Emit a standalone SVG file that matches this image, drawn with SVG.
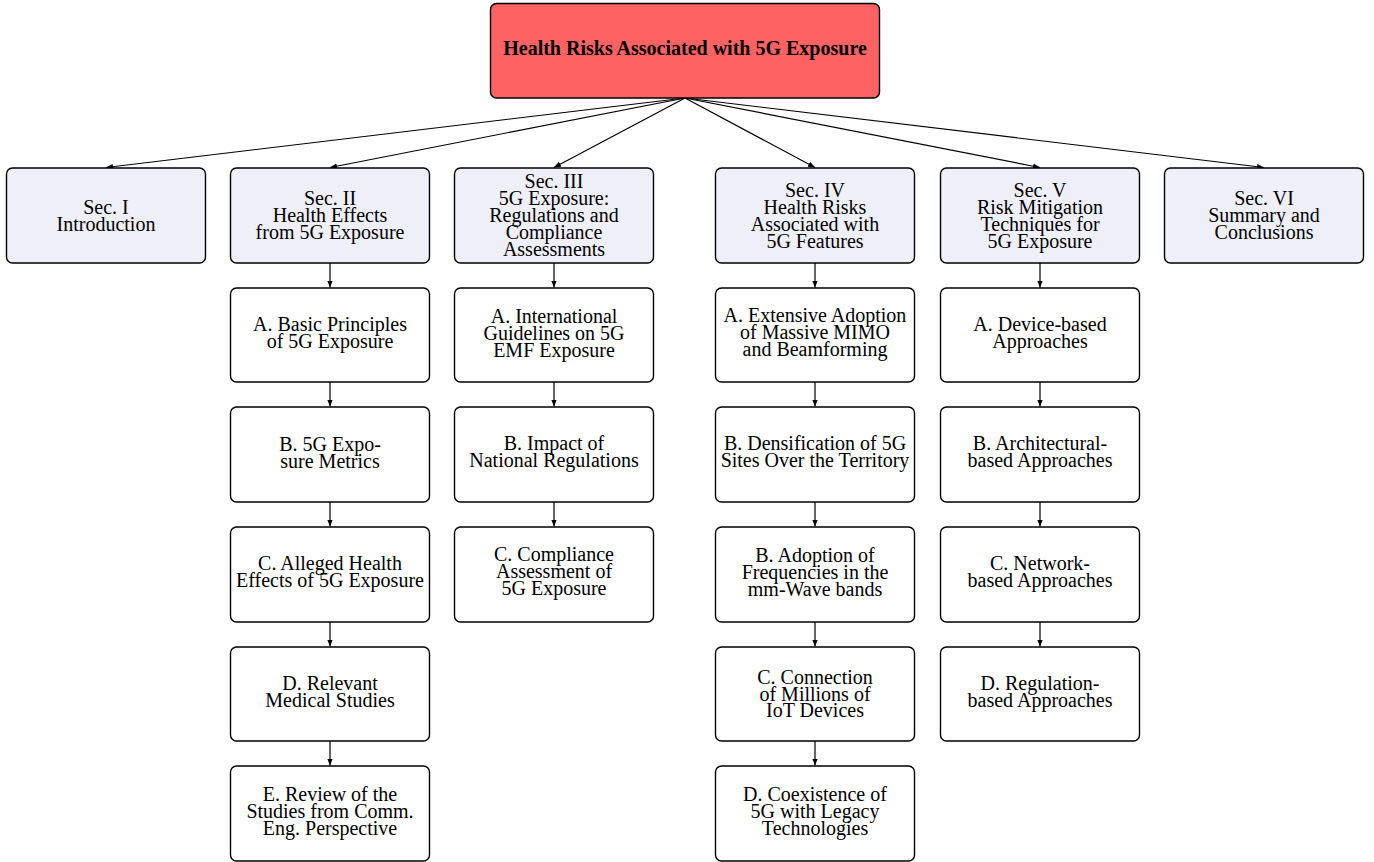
<svg xmlns="http://www.w3.org/2000/svg" width="1374" height="862" viewBox="0 0 1374 862">
<style>
.b{stroke:#000;stroke-width:1.4}
.root{fill:#FF6262}
.sec{fill:#EFEFF9}
.ch{fill:#FFFFFF}
text{font-family:"Liberation Serif","Times New Roman",serif;font-size:20px;fill:#000;text-anchor:middle}
.tt{font-weight:bold;font-size:20px}
.c{stroke:#000;stroke-width:1.2;fill:none;marker-end:url(#ah)}
</style>
<defs>
<marker id="ah" viewBox="0 0 10 10" refX="10" refY="5" markerWidth="7" markerHeight="7" markerUnits="userSpaceOnUse" orient="auto">
<path d="M0,1 L10,5 L0,9 Z" fill="#000"/>
</marker>
</defs>
<g id="connectors">
<path class="c" d="M685,98 L106,167.5"/>
<path class="c" d="M685,98 L330,167.5"/>
<path class="c" d="M685,98 L554,167.5"/>
<path class="c" d="M685,98 L815,167.5"/>
<path class="c" d="M685,98 L1040,167.5"/>
<path class="c" d="M685,98 L1264,167.5"/>
<path class="c" d="M330,263 V287.5"/>
<path class="c" d="M330,382 V406.5"/>
<path class="c" d="M330,502 V526.5"/>
<path class="c" d="M330,622 V646.5"/>
<path class="c" d="M330,741 V765.5"/>
<path class="c" d="M554,263 V287.5"/>
<path class="c" d="M554,382 V406.5"/>
<path class="c" d="M554,502 V526.5"/>
<path class="c" d="M815,263 V287.5"/>
<path class="c" d="M815,382 V406.5"/>
<path class="c" d="M815,502 V526.5"/>
<path class="c" d="M815,622 V646.5"/>
<path class="c" d="M815,741 V765.5"/>
<path class="c" d="M1040,263 V287.5"/>
<path class="c" d="M1040,382 V406.5"/>
<path class="c" d="M1040,502 V526.5"/>
<path class="c" d="M1040,622 V646.5"/>
</g>
<g id="root">
<rect class="b root" x="490.5" y="3.5" width="389" height="94.5" rx="6"/>
<text class="tt" x="685" y="55">Health Risks Associated with 5G Exposure</text>
</g>
<g id="sec1">
<rect class="b sec" x="6.5" y="168" width="199" height="95" rx="6"/>
<text x="106" y="214">Sec. I<tspan x="106" dy="17">Introduction</tspan></text>
</g>
<g id="sec2">
<rect class="b sec" x="230.5" y="168" width="199" height="95" rx="6"/>
<text x="330" y="205">Sec. II<tspan x="330" dy="17">Health Effects</tspan><tspan x="330" dy="17">from 5G Exposure</tspan></text>
</g>
<g id="sec3">
<rect class="b sec" x="454.5" y="168" width="199" height="95" rx="6"/>
<text x="554" y="188">Sec. III<tspan x="554" dy="17">5G Exposure:</tspan><tspan x="554" dy="17">Regulations and</tspan><tspan x="554" dy="17">Compliance</tspan><tspan x="554" dy="17">Assessments</tspan></text>
</g>
<g id="sec4">
<rect class="b sec" x="715.5" y="168" width="199" height="95" rx="6"/>
<text x="815" y="197">Sec. IV<tspan x="815" dy="17">Health Risks</tspan><tspan x="815" dy="17">Associated with</tspan><tspan x="815" dy="17">5G Features</tspan></text>
</g>
<g id="sec5">
<rect class="b sec" x="940.5" y="168" width="199" height="95" rx="6"/>
<text x="1040" y="197">Sec. V<tspan x="1040" dy="17">Risk Mitigation</tspan><tspan x="1040" dy="17">Techniques for</tspan><tspan x="1040" dy="17">5G Exposure</tspan></text>
</g>
<g id="sec6">
<rect class="b sec" x="1164.5" y="168" width="199" height="95" rx="6"/>
<text x="1264" y="205">Sec. VI<tspan x="1264" dy="17">Summary and</tspan><tspan x="1264" dy="17">Conclusions</tspan></text>
</g>
<g id="s2a"><rect class="b ch" x="230.5" y="288" width="199" height="94" rx="6"/>
<text x="330" y="331">A. Basic Principles<tspan x="330" dy="17">of 5G Exposure</tspan></text></g>
<g id="s2b"><rect class="b ch" x="230.5" y="407" width="199" height="95" rx="6"/>
<text x="330" y="451">B. 5G Expo-<tspan x="330" dy="17">sure Metrics</tspan></text></g>
<g id="s2c"><rect class="b ch" x="230.5" y="527" width="199" height="95" rx="6"/>
<text x="330" y="570">C. Alleged Health<tspan x="330" dy="17">Effects of 5G Exposure</tspan></text></g>
<g id="s2d"><rect class="b ch" x="230.5" y="647" width="199" height="94" rx="6"/>
<text x="330" y="690">D. Relevant<tspan x="330" dy="17">Medical Studies</tspan></text></g>
<g id="s2e"><rect class="b ch" x="230.5" y="766" width="199" height="95" rx="6"/>
<text x="330" y="801">E. Review of the<tspan x="330" dy="17">Studies from Comm.</tspan><tspan x="330" dy="17">Eng. Perspective</tspan></text></g>
<g id="s3a"><rect class="b ch" x="454.5" y="288" width="199" height="94" rx="6"/>
<text x="554" y="323">A. International<tspan x="554" dy="17">Guidelines on 5G</tspan><tspan x="554" dy="17">EMF Exposure</tspan></text></g>
<g id="s3b"><rect class="b ch" x="454.5" y="407" width="199" height="95" rx="6"/>
<text x="554" y="450">B. Impact of<tspan x="554" dy="17">National Regulations</tspan></text></g>
<g id="s3c"><rect class="b ch" x="454.5" y="527" width="199" height="95" rx="6"/>
<text x="554" y="561">C. Compliance<tspan x="554" dy="17">Assessment of</tspan><tspan x="554" dy="17">5G Exposure</tspan></text></g>
<g id="s4a"><rect class="b ch" x="715.5" y="288" width="199" height="94" rx="6"/>
<text x="815" y="322">A. Extensive Adoption<tspan x="815" dy="17">of Massive MIMO</tspan><tspan x="815" dy="17">and Beamforming</tspan></text></g>
<g id="s4b"><rect class="b ch" x="715.5" y="407" width="199" height="95" rx="6"/>
<text x="815" y="450">B. Densification of 5G<tspan x="815" dy="17">Sites Over the Territory</tspan></text></g>
<g id="s4c"><rect class="b ch" x="715.5" y="527" width="199" height="95" rx="6"/>
<text x="815" y="562">B. Adoption of<tspan x="815" dy="17">Frequencies in the</tspan><tspan x="815" dy="17">mm-Wave bands</tspan></text></g>
<g id="s4d"><rect class="b ch" x="715.5" y="647" width="199" height="94" rx="6"/>
<text x="815" y="684">C. Connection<tspan x="815" dy="17">of Millions of</tspan><tspan x="815" dy="16">IoT Devices</tspan></text></g>
<g id="s4e"><rect class="b ch" x="715.5" y="766" width="199" height="95" rx="6"/>
<text x="815" y="801">D. Coexistence of<tspan x="815" dy="17">5G with Legacy</tspan><tspan x="815" dy="17">Technologies</tspan></text></g>
<g id="s5a"><rect class="b ch" x="940.5" y="288" width="199" height="94" rx="6"/>
<text x="1040" y="331">A. Device-based<tspan x="1040" dy="17">Approaches</tspan></text></g>
<g id="s5b"><rect class="b ch" x="940.5" y="407" width="199" height="95" rx="6"/>
<text x="1040" y="450">B. Architectural-<tspan x="1040" dy="17">based Approaches</tspan></text></g>
<g id="s5c"><rect class="b ch" x="940.5" y="527" width="199" height="95" rx="6"/>
<text x="1040" y="570">C. Network-<tspan x="1040" dy="17">based Approaches</tspan></text></g>
<g id="s5d"><rect class="b ch" x="940.5" y="647" width="199" height="94" rx="6"/>
<text x="1040" y="690">D. Regulation-<tspan x="1040" dy="17">based Approaches</tspan></text></g>
</svg>
